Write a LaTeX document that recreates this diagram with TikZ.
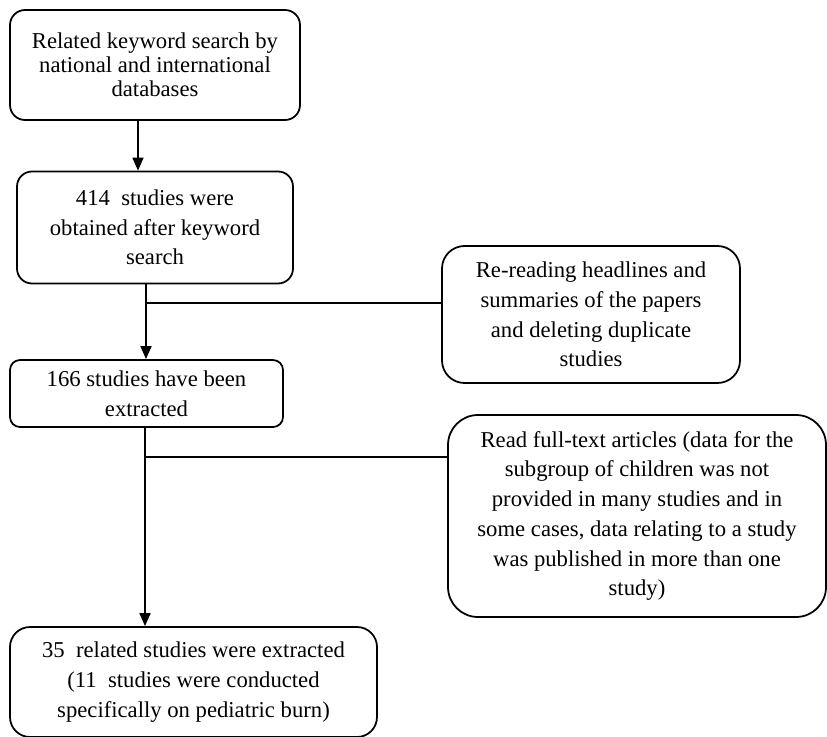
\documentclass[tikz,border=0pt]{standalone}
\usepackage{fontspec}
\setmainfont{Liberation Serif}
\usetikzlibrary{arrows.meta}

\begin{document}
\begin{tikzpicture}[
    line width=1pt,
    box/.style={draw, rounded corners=0.3cm, align=center, inner sep=2pt, font=\fontsize{12.9}{16.9}\selectfont},
    flow/.style={-{Triangle[width=0.22cm,length=0.26cm]}}
]
    \useasboundingbox (0,0) rectangle (16.54,-14.72);

    % Main column
    \node[box, minimum width=5.8cm, minimum height=2.2cm, font=\fontsize{12.9}{13.6}\selectfont] (search) at (3.1,-1.3) {Related keyword search by\\national and international\\databases};
    \node[box, minimum width=5.52cm, minimum height=2.24cm] (obtained) at (3.1,-4.55) {414~~studies were\\obtained after keyword\\search};
    \node[box, minimum width=5.46cm, minimum height=1.34cm, rounded corners=0.2cm] (extracted) at (2.93,-7.87) {166 studies have been\\extracted};
    \node[box, minimum width=7.34cm, minimum height=2.2cm, rounded corners=0.4cm] (final) at (3.87,-13.64) {35~~related studies were extracted\\(11~~studies were conducted\\specifically on pediatric burn)};

    % Side boxes
    \node[box, minimum width=5.96cm, minimum height=2.74cm, rounded corners=0.45cm] (reread) at (11.82,-6.29) {Re-reading headlines and\\summaries of the papers\\and deleting duplicate\\studies};
    \node[box, minimum width=7.56cm, minimum height=4.04cm, rounded corners=0.6cm] (fulltext) at (12.74,-10.32) {Read full-text articles (data for the\\subgroup of children was not\\provided in many studies and in\\some cases, data relating to a study\\was published in more than one\\study)};

    % Connectors
    \coordinate (a1) at (2.76,0);
    \coordinate (j1) at (2.92,-6.06);
    \coordinate (j2) at (2.9,-9.14);
    \draw[flow] (search.south -| a1) -- (obtained.north -| a1);
    \draw[flow] (obtained.south -| j1) -- (extracted.north -| j1);
    \draw (j1) -- (j1 -| reread.west);
    \draw[flow] (extracted.south -| j2) -- (final.north -| j2);
    \draw (j2) -- (j2 -| fulltext.west);
\end{tikzpicture}
\end{document}
